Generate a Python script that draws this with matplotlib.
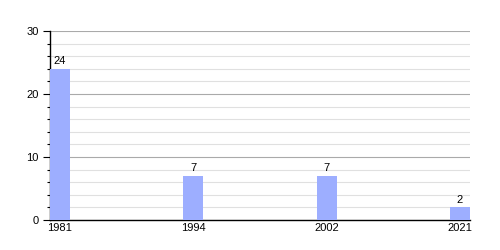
import matplotlib
matplotlib.use('Agg')
import matplotlib.pyplot as plt
from matplotlib.ticker import MultipleLocator

plt.rcParams['font.family'] = ['Liberation Sans', 'DejaVu Sans']

# dados
anos = ['1981', '1994', '2002', '2021']
valores = [24, 7, 7, 2]

fig = plt.figure(figsize=(5, 2.5), dpi=100)
ax = fig.add_axes([0.1, 0.12, 0.84, 0.756])

pos = list(range(len(anos)))
barras = ax.bar(pos, valores, width=0.15, color='#9daeff', zorder=3)

for x, v in zip(pos, valores):
    ax.text(x, v + 0.4, str(v), ha='center', va='bottom', fontsize=8)

ax.set_xlim(-0.075, len(anos) - 1 + 0.075)
ax.set_ylim(0, 30)
ax.set_xticks(pos)
ax.set_xticklabels(anos, fontsize=8)
ax.tick_params(axis='x', length=0, pad=2)

ax.yaxis.set_major_locator(MultipleLocator(10))
ax.yaxis.set_minor_locator(MultipleLocator(2))
ax.tick_params(axis='y', which='major', length=5, width=0.8, labelsize=8, pad=3)
ax.tick_params(axis='y', which='minor', length=2.5, width=0.8)

ax.grid(axis='y', which='major', color='#aaaaaa', linewidth=0.8, zorder=0)
ax.grid(axis='y', which='minor', color='#e0e0e0', linewidth=0.8, zorder=0)
ax.set_axisbelow(True)

for lado in ['top', 'right']:
    ax.spines[lado].set_visible(False)
ax.spines['left'].set_linewidth(1)
ax.spines['bottom'].set_linewidth(1)

plt.savefig('out.png', dpi=100)
